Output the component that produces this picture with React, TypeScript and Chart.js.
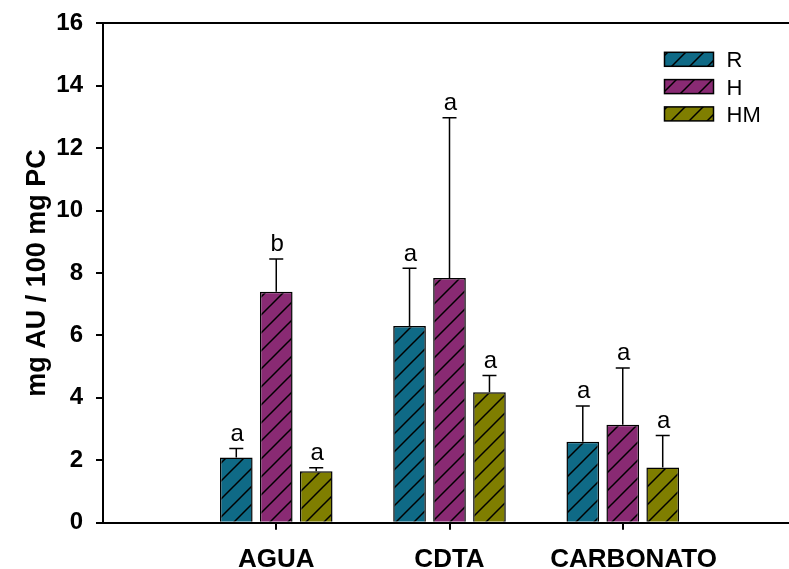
import React, { useEffect, useRef } from "react";
import { Chart, registerables } from "chart.js";

Chart.register(...registerables);

const categories = ["AGUA", "CDTA", "CARBONATO"];
const seriesNames = ["R", "H", "HM"];
const seriesColors = ["#0f6a86", "#892a73", "#7f7e00"];

const valuesR = [2.09, 6.3, 2.59];
const valuesH = [7.4, 7.84, 3.14];
const valuesHM = [1.65, 4.18, 1.77];

const errorsR = [0.29, 1.85, 1.15];
const errorsH = [1.05, 5.13, 1.82];
const errorsHM = [0.11, 0.54, 1.02];

const lettersR = ["a", "a", "a"];
const lettersH = ["b", "a", "a"];
const lettersHM = ["a", "a", "a"];

const yTicks = [0, 2, 4, 6, 8, 10, 12, 14, 16];

const FONT = "'Liberation Sans', Arial, Helvetica, sans-serif";

function makePattern(color: string): CanvasPattern | string {
  const size = 18;
  const c = document.createElement("canvas");
  c.width = size;
  c.height = size;
  const g = c.getContext("2d");
  if (!g) return color;
  g.fillStyle = color;
  g.fillRect(0, 0, size, size);
  g.strokeStyle = "#000";
  g.lineWidth = 1.5;
  g.beginPath();
  g.moveTo(-2, size + 2);
  g.lineTo(size + 2, -2);
  g.moveTo(-2, 2);
  g.lineTo(2, -2);
  g.moveTo(size - 2, size + 2);
  g.lineTo(size + 2, size - 2);
  g.stroke();
  const p = g.createPattern(c, "repeat");
  return p || color;
}

export default function App() {
  const ref = useRef<HTMLCanvasElement | null>(null);

  useEffect(() => {
    const canvas = ref.current;
    if (!canvas) return;

    const labels = ["", ...categories, ""];
    const values = [valuesR, valuesH, valuesHM];
    const errors = [errorsR, errorsH, errorsHM];
    const letters = [lettersR, lettersH, lettersHM];

    const datasets = seriesNames.map((name, i) => ({
      label: name,
      data: [null, ...values[i], null],
      backgroundColor: makePattern(seriesColors[i]),
      borderColor: "#000",
      borderWidth: 1.5,
      barPercentage: 0.817,
      categoryPercentage: 0.692,
    }));

    const errorPlugin = {
      id: "errorBarsLetters",
      afterDatasetsDraw(chart: any) {
        const ctx = chart.ctx;
        const yScale = chart.scales.y;
        ctx.save();
        ctx.strokeStyle = "#000";
        ctx.fillStyle = "#000";
        ctx.lineWidth = 1.5;
        ctx.font = `24px ${FONT}`;
        ctx.textAlign = "center";
        ctx.textBaseline = "alphabetic";
        chart.data.datasets.forEach((ds: any, i: number) => {
          const meta = chart.getDatasetMeta(i);
          meta.data.forEach((el: any, j: number) => {
            const v = ds.data[j];
            if (v === null || v === undefined) return;
            const k = j - 1;
            const top = yScale.getPixelForValue(v + errors[i][k]);
            const x = el.x;
            ctx.beginPath();
            ctx.moveTo(x, el.y);
            ctx.lineTo(x, top);
            ctx.moveTo(x - 7, top);
            ctx.lineTo(x + 7, top);
            ctx.stroke();
            ctx.fillText(letters[i][k], x + 1, top - 7.5);
          });
        });
        ctx.restore();
      },
    };

    const legendPlugin = {
      id: "innerLegend",
      afterDraw(chart: any) {
        const ctx = chart.ctx;
        const area = chart.chartArea;
        const boxX = area.left + 561.5;
        const boxW = 49;
        const boxH = 14;
        const startY = area.top + 29;
        const step = 27.3;
        ctx.save();
        ctx.font = `22px ${FONT}`;
        ctx.textAlign = "left";
        ctx.textBaseline = "alphabetic";
        chart.data.datasets.forEach((ds: any, i: number) => {
          const y = startY + i * step;
          ctx.fillStyle = ds.backgroundColor;
          ctx.fillRect(boxX, y, boxW, boxH);
          ctx.strokeStyle = "#000";
          ctx.lineWidth = 1.5;
          ctx.strokeRect(boxX, y, boxW, boxH);
          ctx.fillStyle = "#000";
          ctx.fillText(ds.label, boxX + boxW + 13, y + boxH / 2 + 7.9);
        });
        ctx.restore();
      },
    };

    const chart = new Chart(canvas, {
      type: "bar",
      data: { labels, datasets: datasets as any },
      options: {
        animation: false,
        responsive: false,
        maintainAspectRatio: false,
        devicePixelRatio: 1,
        layout: { padding: { top: 23.3, right: 4, left: 0, bottom: 0 } },
        plugins: {
          legend: { display: false },
          tooltip: { enabled: false },
        },
        scales: {
          x: {
            type: "category",
            position: "bottom",
            offset: false,
            grid: {
              offset: false,
              drawOnChartArea: false,
              drawTicks: true,
              tickLength: 7,
              lineWidth: 2,
              color: (c: any) =>
                c.index === 0 || c.index === labels.length - 1 ? "rgba(0,0,0,0)" : "#000",
            },
            border: { display: true, color: "#000", width: 2 },
            ticks: {
              autoSkip: false,
              maxRotation: 0,
              minRotation: 0,
              padding: 15,
              color: "#000",
              font: { family: FONT, size: 26, weight: "bold" },
              callback: (_v: any, i: number) =>
                (i === labels.length - 2 ? "   " : "") + labels[i],
            },
            afterFit: (s: any) => {
              s.height = 46.3;
              s.paddingLeft = 0;
              s.paddingRight = 0;
            },
          },
          x2: {
            type: "category",
            position: "top",
            offset: false,
            grid: { display: false, drawTicks: false },
            ticks: { display: false },
            border: { display: true, color: "#000", width: 2 },
            afterFit: (s: any) => {
              s.height = 0;
              s.paddingLeft = 0;
              s.paddingRight = 0;
            },
          },
          y: {
            min: 0,
            max: 16,
            afterBuildTicks: (s: any) => {
              s.ticks = yTicks.map((v) => ({ value: v }));
            },
            grid: {
              drawOnChartArea: false,
              drawTicks: true,
              tickLength: 7,
              lineWidth: 2,
              color: "#000",
            },
            border: { display: true, color: "#000", width: 2 },
            ticks: {
              padding: 13,
              color: "#000",
              font: { family: FONT, size: 24, weight: "bold" },
            },
            title: {
              display: true,
              text: "mg AU / 100 mg PC",
              color: "#000",
              font: { family: FONT, size: 27, weight: "bold" },
              padding: { top: 21, bottom: 0 },
            },
            afterFit: (s: any) => {
              s.width = 103;
              s.paddingTop = 0;
              s.paddingBottom = 0;
            },
          },
        },
      },
      plugins: [errorPlugin, legendPlugin],
    } as any);

    return () => {
      chart.destroy();
    };
  }, []);

  return (
    <div
      style={{
        position: "absolute",
        left: 0,
        top: 0,
        width: 789,
        height: 569,
        overflow: "hidden",
        background: "#fff",
      }}
    >
      <div style={{ width: 800, height: 569 }}>
        <canvas ref={ref} width={800} height={569} style={{ display: "block" }} />
      </div>
    </div>
  );
}
